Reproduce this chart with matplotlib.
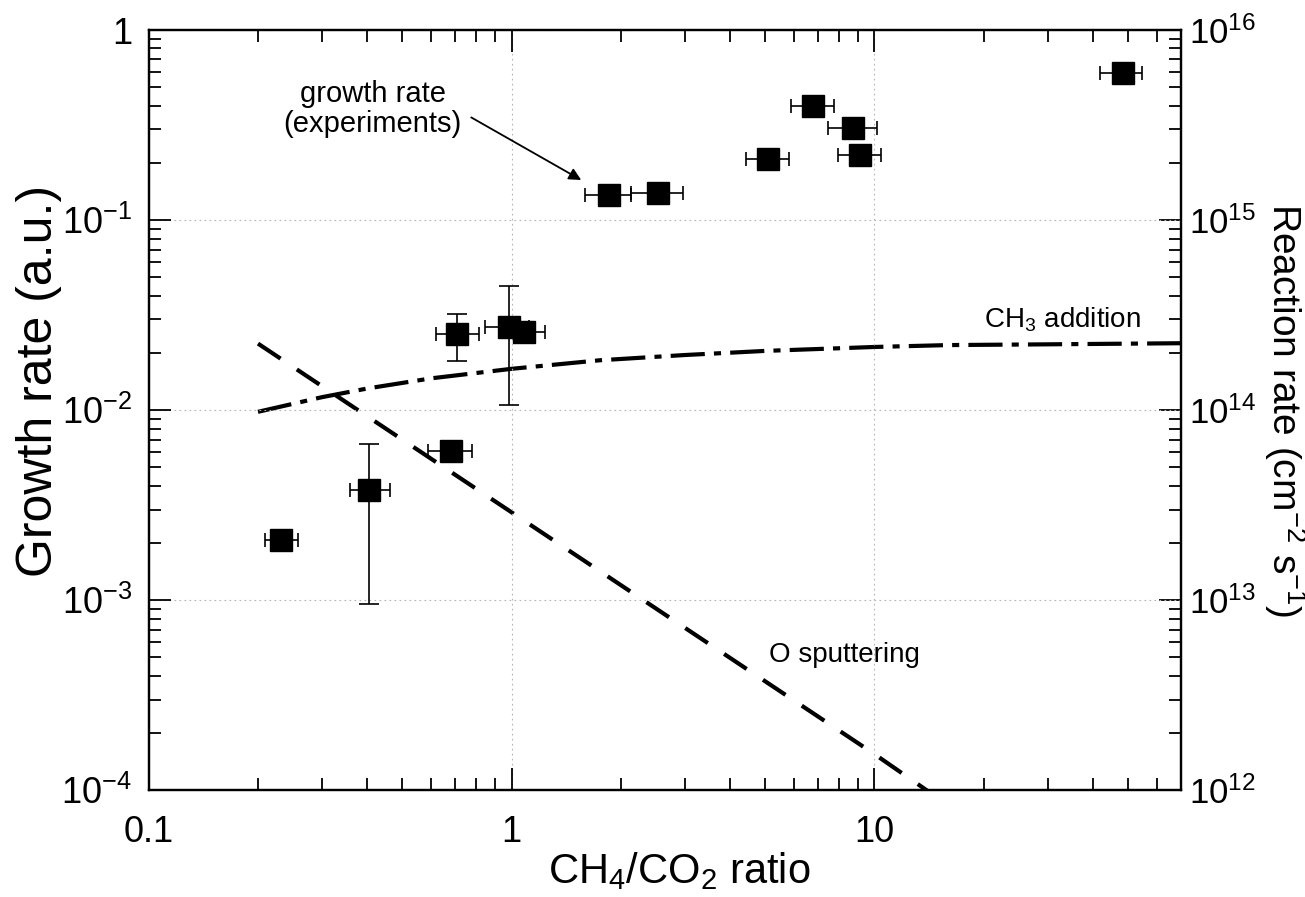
import matplotlib.pyplot as plt
import matplotlib.ticker as mticker
import numpy as np

plt.rcParams['font.family'] = ['Liberation Sans', 'DejaVu Sans']
plt.rcParams['mathtext.fontset'] = 'custom'
plt.rcParams['mathtext.rm'] = 'Liberation Sans'
plt.rcParams['mathtext.it'] = 'Liberation Sans'

# experimental growth rate (left axis)
ratio = [0.232, 0.404, 0.682, 0.706, 0.983, 1.081, 1.85, 2.54, 5.08, 6.79, 8.75, 9.15, 48.3]
growth = [0.00208, 0.0038, 0.0061, 0.0252, 0.0274, 0.0257, 0.135, 0.139, 0.209, 0.398, 0.306, 0.219, 0.596]
ratio_lo = [0.209, 0.358, 0.590, 0.617, 0.846, 0.93, 1.59, 2.14, 4.43, 5.90, 7.46, 7.96, 41.9]
ratio_hi = [0.257, 0.461, 0.776, 0.811, 1.12, 1.233, 2.14, 2.96, 5.80, 7.76, 10.15, 10.43, 54.8]
# vertical error bars only on a few points
yerr_idx = [1, 3, 4]
growth_lo = [0.00095, 0.0181, 0.0106]
growth_hi = [0.00665, 0.0321, 0.045]

# model reaction rates (right axis)
ch3_ratio = [0.2, 0.3, 0.4, 0.6, 1.0, 1.75, 3.0, 5.0, 10.0, 16.0, 30.0, 70.0]
ch3_rate = [9.8e13, 1.17e14, 1.3e14, 1.47e14, 1.65e14, 1.83e14, 1.95e14, 2.05e14, 2.15e14, 2.2e14, 2.22e14, 2.25e14]
osp_ratio = [0.2, 1.0, 10.0, 20.0]
osp_rate = [2.24e14, 2.9e13, 1.55e12, 6.2e11]

fig = plt.figure(figsize=(13.05, 8.97), dpi=100)
ax = fig.add_axes([0.114, 0.119, 0.791, 0.8475])
ax2 = ax.twinx()

# curves on the reaction rate axis
ax2.plot(ch3_ratio, ch3_rate, color='black', lw=3, dashes=(8.2, 2.2, 1.7, 2.2), solid_capstyle='butt')
ax2.plot(osp_ratio, osp_rate, color='black', lw=3, dashes=(6.5, 4.7))
ax2.set_yscale('log')
ax2.set_ylim(1e12, 1e16)

ax.set_zorder(ax2.get_zorder() + 1)
ax.patch.set_visible(False)

x = np.array(ratio)
y = np.array(growth)
xerr = [x - np.array(ratio_lo), np.array(ratio_hi) - x]
ax.errorbar(x, y, xerr=xerr, fmt='none', ecolor='black', elinewidth=1.2, capsize=5, capthick=1.2, zorder=2)
yi = np.array(yerr_idx)
yerr = [y[yi] - np.array(growth_lo), np.array(growth_hi) - y[yi]]
ax.errorbar(x[yi], y[yi], yerr=yerr, fmt='none', ecolor='black', elinewidth=1.2, capsize=7, capthick=1.2, zorder=2)
ax.plot(x, y, 's', color='black', markersize=15.5, zorder=3)

ax.set_xscale('log')
ax.set_yscale('log')
ax.set_xlim(0.1, 70)
ax.set_ylim(1e-4, 1)

ax.xaxis.set_major_formatter(mticker.FuncFormatter(lambda v, p: '%g' % v))
ax.yaxis.set_major_locator(mticker.LogLocator(base=10, numticks=10))
ax.yaxis.set_major_formatter(mticker.FuncFormatter(
    lambda v, p: '1' if v == 1 else r'$\mathregular{10^{%d}}$' % round(np.log10(v))))
ax2.yaxis.set_major_formatter(mticker.FuncFormatter(
    lambda v, p: r'$\mathregular{10^{%d}}$' % round(np.log10(v))))

ax.grid(True, which='major', color='#b5b5b5', linestyle=(0, (1.5, 3)), lw=0.8)

for a in (ax, ax2):
    a.tick_params(which='major', direction='in', length=16, width=1.3, labelsize=26)
    a.tick_params(which='minor', direction='in', length=8.5, width=1.3)
    for s in a.spines.values():
        s.set_linewidth(1.6)
ax.tick_params(which='both', top=True, right=False)
ax.tick_params(axis='x', which='major', pad=18)
ax.tick_params(axis='y', which='major', pad=12)
ax2.tick_params(axis='y', which='major', pad=6, labelsize=25)

ax.set_xlabel(r'CH$_\mathregular{4}$/CO$_\mathregular{2}$ ratio', fontsize=30)
ax.xaxis.set_label_coords(0.5136, -0.079)
ax.set_ylabel('Growth rate (a.u.)', fontsize=36)
ax.yaxis.set_label_coords(-0.084, 0.538)
ax2.set_ylabel(r'Reaction rate (cm$^\mathregular{-2}$ s$^\mathregular{-1}$)', fontsize=28,
               rotation=270, va='bottom')
ax2.yaxis.set_label_coords(1.078, 0.5)

ax.text(0.414, 0.384, 'growth rate\n(experiments)', fontsize=21, ha='center', va='center', linespacing=1.1)
ax.annotate('', xy=(1.556, 0.1625), xytext=(0.774, 0.347),
            arrowprops=dict(arrowstyle='-|>', color='black', lw=1.3, mutation_scale=18, shrinkA=0, shrinkB=0))
ax.text(54.4, 0.0298, r'CH$_\mathregular{3}$ addition', fontsize=20, ha='right', va='center')
ax.text(8.27, 0.000514, 'O sputtering', fontsize=20, ha='center', va='center')

fig.savefig('out.png', dpi=100)
